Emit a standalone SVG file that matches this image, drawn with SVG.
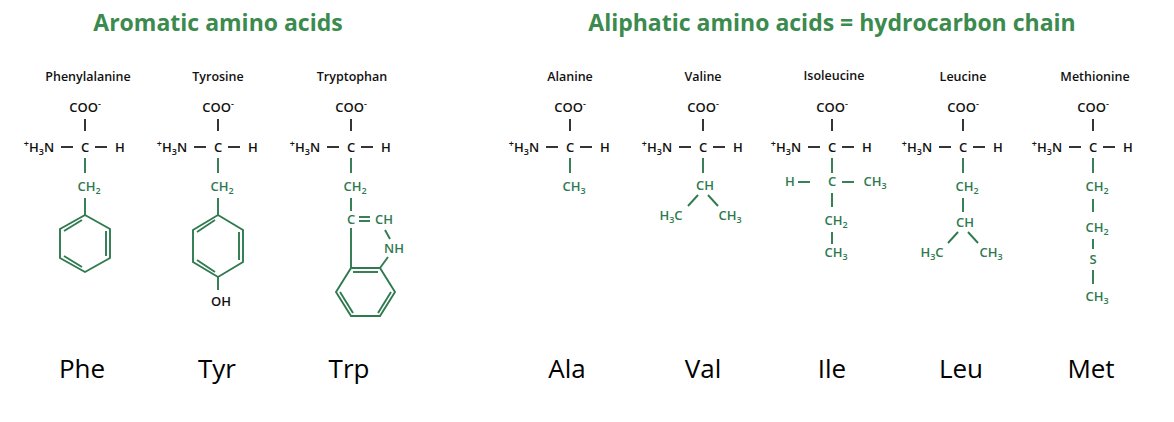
<svg xmlns="http://www.w3.org/2000/svg" width="1174" height="422" viewBox="0 0 1174 422">
<style>
text{font-family:"Open Sans","Liberation Sans",sans-serif}
.t{font-size:23px;font-weight:bold;fill:#3b8a4e;text-anchor:middle}
.n{font-size:12.5px;font-weight:600;fill:#111;text-anchor:middle}
.k{font-size:13px;font-weight:600;fill:#111;text-anchor:middle}
.g{font-size:13px;font-weight:600;fill:#2f7a4f;text-anchor:middle}
.s{font-size:9px}
.ab{font-size:26px;fill:#000;text-anchor:middle}
.bl{stroke:#111;stroke-width:1.7;fill:none}
.gl{stroke:#2f7a4f;stroke-width:1.9;fill:none}
</style>
<defs>
<g id="core">
<text class="k" x="0" y="112">COO<tspan class="s" dy="-5">-</tspan></text>
<line class="bl" x1="0" y1="119" x2="0" y2="131"/>
<text class="k" x="-46" y="152"><tspan class="s" dy="-5">+</tspan><tspan dy="5">H</tspan><tspan class="s" dy="3">3</tspan><tspan dy="-3">N</tspan></text>
<line class="bl" x1="-24" y1="147" x2="-12" y2="147"/>
<text class="k" x="0" y="152">C</text>
<line class="bl" x1="10" y1="147" x2="22" y2="147"/>
<text class="k" x="35" y="152">H</text>
<line class="gl" x1="0" y1="158" x2="0" y2="173"/>
</g>
</defs>
<text class="t" x="218" y="31">Aromatic amino acids</text>
<text class="t" x="832" y="31">Aliphatic amino acids = hydrocarbon chain</text>

<g id="phe" transform="translate(85,0)">
<text class="n" x="3" y="81">Phenylalanine</text>
<use href="#core"/>
<text class="g" x="4" y="191">CH<tspan class="s" dy="3">2</tspan></text>
<line class="gl" x1="0" y1="198" x2="0" y2="215"/>
<polygon class="gl" points="0,215 25,229 25,258 0,272 -25,258 -25,229"/>
<line class="gl" x1="-3" y1="220" x2="-21" y2="231"/>
<line class="gl" x1="21" y1="231" x2="21" y2="256"/>
<line class="gl" x1="-3" y1="267" x2="-21" y2="256"/>
<text class="ab" x="-3" y="378">Phe</text>
</g>

<g id="tyr" transform="translate(218,0)">
<text class="n" x="0" y="81">Tyrosine</text>
<use href="#core"/>
<text class="g" x="4" y="191">CH<tspan class="s" dy="3">2</tspan></text>
<line class="gl" x1="0" y1="198" x2="0" y2="215"/>
<polygon class="gl" points="0,215 25,230 25,262 0,277 -25,262 -25,230"/>
<line class="gl" x1="-3" y1="220" x2="-21" y2="232"/>
<line class="gl" x1="21" y1="232" x2="21" y2="260"/>
<line class="gl" x1="-3" y1="272" x2="-21" y2="260"/>
<line class="gl" x1="0" y1="277" x2="0" y2="290"/>
<text class="k" x="3" y="306">OH</text>
<text class="ab" x="-1" y="378">Tyr</text>
</g>

<g id="trp" transform="translate(351,0)">
<text class="n" x="1" y="81">Tryptophan</text>
<use href="#core"/>
<text class="g" x="4" y="191">CH<tspan class="s" dy="3">2</tspan></text>
<line class="gl" x1="0" y1="198" x2="0" y2="211"/>
<text class="g" x="0" y="224">C</text>
<line class="gl" x1="8" y1="217" x2="19" y2="217"/>
<line class="gl" x1="8" y1="221" x2="19" y2="221"/>
<text class="g" x="33" y="224">CH</text>
<line class="gl" x1="34" y1="230" x2="39" y2="239"/>
<text class="g" x="43" y="253">NH</text>
<line class="gl" x1="37" y1="257" x2="29" y2="268"/>
<line class="gl" x1="0" y1="228" x2="0" y2="268"/>
<polygon class="gl" points="0,268 29,268 44,292 29,316 0,316 -15,292"/>
<line class="gl" x1="2" y1="272" x2="27" y2="272"/>
<line class="gl" x1="-11" y1="292" x2="2" y2="313"/>
<line class="gl" x1="40" y1="292" x2="27" y2="313"/>
<text class="ab" x="-2" y="378">Trp</text>
</g>

<g id="ala" transform="translate(570,0)">
<text class="n" x="0" y="81">Alanine</text>
<use href="#core"/>
<text class="g" x="4" y="191">CH<tspan class="s" dy="3">3</tspan></text>
<text class="ab" x="-3" y="378">Ala</text>
</g>

<g id="val" transform="translate(703,0)">
<text class="n" x="0" y="81">Valine</text>
<use href="#core"/>
<text class="g" x="2" y="190">CH</text>
<line class="gl" x1="-5" y1="195" x2="-15" y2="206"/>
<line class="gl" x1="5" y1="195" x2="15" y2="206"/>
<text class="g" x="-32" y="220">H<tspan class="s" dy="3">3</tspan><tspan dy="-3">C</tspan></text>
<text class="g" x="27" y="220">CH<tspan class="s" dy="3">3</tspan></text>
<text class="ab" x="0" y="378">Val</text>
</g>

<g id="ile" transform="translate(832,0)">
<text class="n" x="2" y="80">Isoleucine</text>
<use href="#core"/>
<text class="g" x="-42" y="186">H</text>
<line class="gl" x1="-34" y1="182" x2="-22" y2="182"/>
<text class="g" x="0" y="186">C</text>
<line class="gl" x1="10" y1="182" x2="22" y2="182"/>
<text class="g" x="43" y="186">CH<tspan class="s" dy="3">3</tspan></text>
<line class="gl" x1="0" y1="193" x2="0" y2="207"/>
<text class="g" x="4" y="225">CH<tspan class="s" dy="3">2</tspan></text>
<line class="gl" x1="0" y1="232" x2="0" y2="244"/>
<text class="g" x="4" y="257">CH<tspan class="s" dy="3">3</tspan></text>
<text class="ab" x="0" y="378">Ile</text>
</g>

<g id="leu" transform="translate(963,0)">
<text class="n" x="0" y="81">Leucine</text>
<use href="#core"/>
<text class="g" x="4" y="191">CH<tspan class="s" dy="3">2</tspan></text>
<line class="gl" x1="0" y1="198" x2="0" y2="212"/>
<text class="g" x="2" y="227">CH</text>
<line class="gl" x1="-5" y1="232" x2="-15" y2="243"/>
<line class="gl" x1="5" y1="232" x2="15" y2="243"/>
<text class="g" x="-31" y="257">H<tspan class="s" dy="3">3</tspan><tspan dy="-3">C</tspan></text>
<text class="g" x="28" y="257">CH<tspan class="s" dy="3">3</tspan></text>
<text class="ab" x="-2" y="378">Leu</text>
</g>

<g id="met" transform="translate(1093,0)">
<text class="n" x="2" y="81">Methionine</text>
<use href="#core"/>
<text class="g" x="4" y="191">CH<tspan class="s" dy="3">2</tspan></text>
<line class="gl" x1="0" y1="199" x2="0" y2="212"/>
<text class="g" x="4" y="232">CH<tspan class="s" dy="3">2</tspan></text>
<line class="gl" x1="0" y1="239" x2="0" y2="249"/>
<text class="g" x="0" y="264">S</text>
<line class="gl" x1="0" y1="270" x2="0" y2="284"/>
<text class="g" x="4" y="301">CH<tspan class="s" dy="3">3</tspan></text>
<text class="ab" x="-2" y="378">Met</text>
</g>
</svg>
